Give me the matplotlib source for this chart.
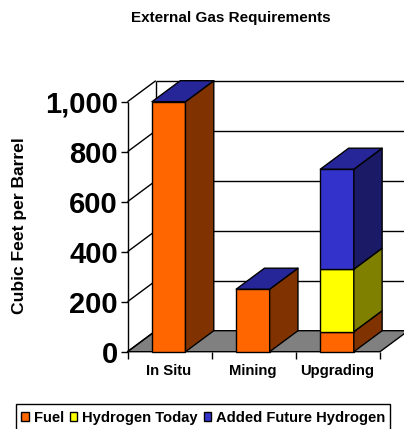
import matplotlib
matplotlib.use("Agg")
import matplotlib.pyplot as plt
from matplotlib.patches import Polygon, Patch, Rectangle
from matplotlib.ticker import FuncFormatter

categories = ["In Situ", "Mining", "Upgrading"]
fuel = [1000, 250, 80]
hydrogen_today = [0, 0, 250]
added_future_hydrogen = [0, 0, 400]
y_ticks = [0, 200, 400, 600, 800, 1000]
title = "External Gas Requirements"
y_label = "Cubic Feet per Barrel"
series_names = ["Fuel", "Hydrogen Today", "Added Future Hydrogen"]

W, H = 404, 429
plt.rcParams["font.family"] = ["Liberation Sans", "DejaVu Sans"]
plt.rcParams["font.weight"] = "bold"
fig = plt.figure(figsize=(W / 100, H / 100), dpi=100)
x0, x1, y0, y1 = 127.5, 380.0, 351.7, 101.7
ax = fig.add_axes([x0 / W, 1 - y0 / H, (x1 - x0) / W, (y0 - y1) / H])
ax.set_xlim(0, 3)
ax.set_ylim(0, 1000)
for s in ax.spines.values():
    s.set_visible(False)
ax.patch.set_visible(False)

DX = 28.3 / ((x1 - x0) / 3)
DY = 84.0
BW = 33.5 / ((x1 - x0) / 3)
LW = 1.0

def poly(pts, fc="none", ec="black", z=2, lw=LW):
    ax.add_patch(Polygon(pts, closed=True, fc=fc, ec=ec, lw=lw, zorder=z,
                         clip_on=False, joinstyle="round"))

def line(xs, ys, z=1, color="black", lw=LW):
    ax.plot(xs, ys, color=color, lw=lw, zorder=z, clip_on=False, solid_capstyle="butt")

# floor and walls
right_edge = 3 + (404 - x1) / ((x1 - x0) / 3)
poly([(0, 0), (3, 0), (3 + DX, DY), (DX, DY)], fc="#808080", ec="black", z=1)
for v in y_ticks:
    line([0, DX], [v, v + DY], z=1)
    if v > 0:
        line([DX, right_edge], [v + DY, v + DY], z=1)
line([0, 0], [0, 1000], z=1)
line([DX, DX], [DY, 1000 + DY], z=1)

# bars
series = [
    (fuel, "#FF6600", "#803300", series_names[0]),
    (hydrogen_today, "#FFFF00", "#808000", series_names[1]),
    (added_future_hydrogen, "#3333CC", "#1A1A66", series_names[2]),
]
TOP = "#262699"
for i in range(len(categories)):
    xc = i + 0.49
    xl, xr = xc - BW / 2, xc + BW / 2
    bottom = 0
    for vals, front, side, _ in series:
        v = vals[i]
        if v == 0:
            continue
        ax.bar(xc, v, width=BW, bottom=bottom, color=front, edgecolor="black",
               linewidth=LW, zorder=3, clip_on=False)
        poly([(xr, bottom), (xr + DX, bottom + DY), (xr + DX, bottom + v + DY),
              (xr, bottom + v)], fc=side, z=3)
        bottom += v
    poly([(xl, bottom), (xr, bottom), (xr + DX, bottom + DY), (xl + DX, bottom + DY)],
         fc=TOP, z=4)

# axes text
ax.set_yticks(y_ticks)
ax.yaxis.set_major_formatter(FuncFormatter(lambda v, _: f"{int(v):,}"))
ax.tick_params(axis="y", length=5, width=1, pad=2, labelsize=21)
for lab in ax.get_yticklabels():
    lab.set_va("center_baseline")
ax.set_xticks([0, 1, 2, 3])
ax.set_xticklabels([])
ax.tick_params(axis="x", which="major", length=5, width=1)
ax.set_xticks([i + 0.49 for i in range(3)], minor=True)
ax.set_xticklabels(categories, minor=True, fontsize=10.7)
ax.tick_params(axis="x", which="minor", length=0, pad=9)

fig.text(231 / W, 1 - 18 / H, title, ha="center", va="center", fontsize=11, fontweight="bold")
fig.text(20 / W, 1 - 226 / H, y_label, ha="center", va="center", rotation=90,
         fontsize=12.6, fontweight="bold")

# legend frame runs off the bottom edge of the picture, as in the reference
fig.add_artist(Rectangle((16 / W, -5 / H), (390 - 16) / W, (429 - 404 + 5) / H,
                         transform=fig.transFigure, fc="white", ec="black", lw=1, zorder=5))
handles = [Patch(fc=c, ec="black", lw=1, label=n) for _, c, _, n in series]
leg = fig.legend(handles=handles, ncol=3, loc="lower left",
                 bbox_to_anchor=(16 / W, -1 / H), bbox_transform=fig.transFigure,
                 fontsize=10.6, frameon=False,
                 handlelength=0.5, handleheight=0.5, handletextpad=0.35,
                 columnspacing=0.4, borderpad=0.35, borderaxespad=0)
leg.set_zorder(6)

fig.savefig("out.png", dpi=100)
